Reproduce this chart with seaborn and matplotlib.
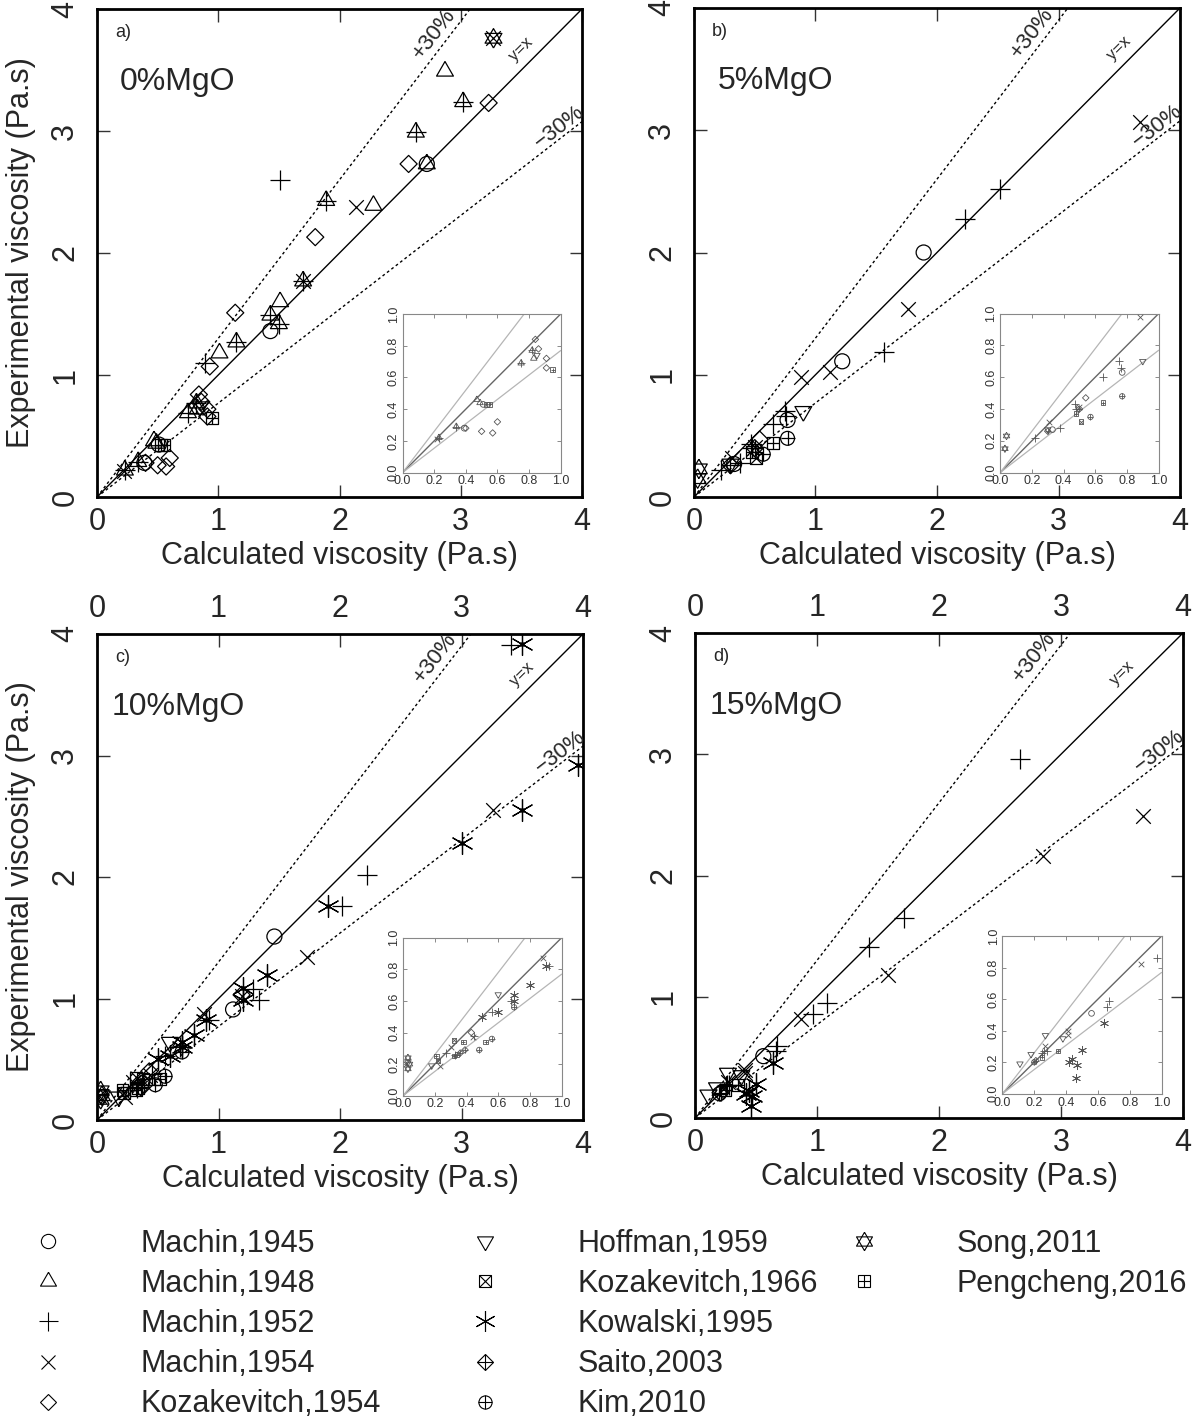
"""Calculated vs experimental viscosity, four MgO levels"""

import numpy as np
import pandas as pd
import matplotlib
matplotlib.use("Agg")
import matplotlib.pyplot as plt
from matplotlib.lines import Line2D
from matplotlib.legend_handler import HandlerTuple
import seaborn as sns

# ---- data: study -> (calculated, experimental) ----
studies = ["Machin,1945", "Machin,1948", "Machin,1952", "Machin,1954",
           "Kozakevitch,1954", "Hoffman,1959", "Kozakevitch,1966",
           "Kowalski,1995", "Saito,2003", "Kim,2010", "Song,2011",
           "Pengcheng,2016"]

mgo_0 = {
    "Machin,1945": ([0.39, 0.51, 1.43, 2.72], [0.28, 0.43, 1.36, 2.73]),
    "Machin,1948": ([0.23, 0.34, 0.47, 0.49, 0.75, 0.82, 0.83, 1.01, 1.15, 1.43,
                     1.50, 1.51, 1.70, 1.89, 2.28, 2.63, 2.72, 2.87, 3.02],
                    [0.22, 0.29, 0.46, 0.44, 0.69, 0.77, 0.72, 1.18, 1.27, 1.49,
                     1.42, 1.60, 1.77, 2.43, 2.39, 2.99, 2.73, 3.49, 3.24]),
    "Machin,1952": ([0.23, 0.34, 0.75, 0.82, 0.89, 1.15, 1.43, 1.50, 1.51, 1.70,
                     1.89, 2.63, 3.02],
                    [0.22, 0.29, 0.69, 0.77, 1.10, 1.27, 1.49, 1.42, 2.60, 1.77,
                     2.43, 2.99, 3.24]),
    "Machin,1954": ([0.22, 1.70, 2.14, 3.27], [0.21, 1.77, 2.38, 3.76]),
    "Kozakevitch,1954": ([0.40, 0.50, 0.57, 0.60, 0.84, 0.86, 0.91, 0.91, 0.93,
                          1.14, 1.80, 2.57, 3.23],
                         [0.28, 0.26, 0.25, 0.32, 0.84, 0.78, 0.72, 0.66, 1.07,
                          1.51, 2.13, 2.73, 3.23]),
    "Hoffman,1959": ([0.85], [0.74]),
    "Pengcheng,2016": ([0.53, 0.55, 0.95], [0.43, 0.43, 0.65]),
    "Song,2011": ([3.27], [3.76]),
}

mgo_5 = {
    "Machin,1945": ([0.33, 0.77, 1.22, 1.89], [0.27, 0.63, 1.11, 2.00]),
    "Machin,1952": ([0.22, 0.38, 0.47, 0.48, 0.65, 0.75, 0.76, 1.56, 2.23, 2.52],
                    [0.22, 0.28, 0.43, 0.40, 0.60, 0.70, 0.66, 1.19, 2.27, 2.52]),
    "Machin,1954": ([0.31, 0.50, 0.88, 1.12, 1.76, 3.67],
                    [0.32, 0.41, 0.98, 1.02, 1.54, 3.07]),
    "Kozakevitch,1954": ([0.54], [0.47]),
    "Hoffman,1959": ([0.30, 0.90], [0.27, 0.70]),
    "Kozakevitch,1966": ([0.51], [0.32]),
    "Saito,2003": ([0.30, 0.50], [0.26, 0.40]),
    "Kim,2010": ([0.57, 0.77], [0.35, 0.48]),
    "Song,2011": ([0.03, 0.04], [0.15, 0.23]),
    "Pengcheng,2016": ([0.48, 0.65], [0.37, 0.44]),
}

mgo_10 = {
    "Machin,1945": ([1.12, 1.46], [0.91, 1.51]),
    "Machin,1952": ([0.27, 0.33, 0.45, 0.56, 0.68, 0.92, 1.28, 1.33, 2.02, 2.22, 3.41],
                    [0.27, 0.26, 0.38, 0.53, 0.60, 0.82, 1.08, 0.99, 1.76, 2.02, 3.91]),
    "Machin,1954": ([0.02, 0.23, 0.30, 0.44, 0.88, 1.19, 1.73, 3.26],
                    [0.20, 0.19, 0.31, 0.37, 0.87, 1.02, 1.34, 2.55]),
    "Kozakevitch,1954": ([0.43, 1.19], [0.40, 1.03]),
    "Hoffman,1959": ([0.03, 0.18, 0.60], [0.21, 0.19, 0.64]),
    "Kozakevitch,1966": ([0.22, 0.32], [0.22, 0.35]),
    "Kowalski,1995": ([0.50, 0.60, 0.70, 0.70, 0.80, 0.90, 1.20, 1.20, 1.40, 1.90,
                       3.00, 3.50, 3.50, 3.96],
                      [0.50, 0.53, 0.64, 0.60, 0.70, 0.82, 1.09, 0.99, 1.19, 1.76,
                       2.28, 2.55, 3.92, 2.92]),
    "Saito,2003": ([0.36, 0.39], [0.27, 0.29]),
    "Kim,2010": ([0.48, 0.56, 0.70], [0.29, 0.36, 0.56]),
    "Song,2011": ([0.03, 0.03, 0.04], [0.17, 0.24, 0.20]),
    "Pengcheng,2016": ([0.21, 0.32, 0.34, 0.38, 0.52], [0.25, 0.25, 0.26, 0.34, 0.34]),
}

mgo_15 = {
    "Machin,1945": ([0.56], [0.51]),
    "Machin,1952": ([0.25, 0.26, 0.28, 0.66, 0.67, 0.97, 1.08, 1.43, 1.71, 2.66],
                    [0.26, 0.27, 0.27, 0.55, 0.59, 0.86, 0.95, 1.41, 1.65, 2.96]),
    "Machin,1954": ([0.27, 0.41, 0.41, 0.87, 1.58, 2.85, 3.67],
                    [0.30, 0.40, 0.37, 0.82, 1.18, 2.16, 2.49]),
    "Hoffman,1959": ([0.11, 0.18, 0.27, 0.38], [0.19, 0.25, 0.37, 0.35]),
    "Kowalski,1995": ([0.42, 0.44, 0.46, 0.47, 0.50, 0.64],
                      [0.20, 0.22, 0.10, 0.18, 0.28, 0.45]),
    "Saito,2003": ([0.21], [0.21]),
    "Kim,2010": ([0.20], [0.20]),
    "Pengcheng,2016": ([0.25, 0.35], [0.23, 0.27]),
}

panel_data = [mgo_0, mgo_5, mgo_10, mgo_15]
panel_tags = ["a)", "b)", "c)", "d)"]
panel_titles = ["0%MgO", "5%MgO", "10%MgO", "15%MgO"]
main_ticks = [0, 1, 2, 3, 4]
inset_ticks = [0.0, 0.2, 0.4, 0.6, 0.8, 1.0]

# ---- marker styles (marker, fill, size in pt on the main axes) ----
tri_up = [(0, 1), (-0.866, -0.5), (0.866, -0.5), (0, 1)]
tri_dn = [(0, -1), (-0.866, 0.5), (0.866, 0.5), (0, -1)]
marker_parts = {
    "Machin,1945": [("o", "open", 10.8)],
    "Machin,1948": [(tri_up, "open", 14)],
    "Machin,1952": [("+", "line", 14.4)],
    "Machin,1954": [("x", "line", 10.5)],
    "Kozakevitch,1954": [("D", "open", 8.7)],
    "Hoffman,1959": [(tri_dn, "open", 14)],
    "Kozakevitch,1966": [("s", "open", 8.6), ("x", "line", 8.6)],
    "Kowalski,1995": [((6, 2, 0), "line", 15.8), ("o", "solid", 2.5)],
    "Saito,2003": [("D", "open", 8.7), ("+", "line", 12)],
    "Kim,2010": [("o", "open", 10), ("+", "line", 10)],
    "Song,2011": [(tri_up, "open", 14), (tri_dn, "open", 14)],
    "Pengcheng,2016": [("s", "open", 8.6), ("+", "line", 8.6)],
}

frames = []
for p, d in enumerate(panel_data):
    for study, (xs, ys) in d.items():
        frames.append(pd.DataFrame({"panel": p, "study": study, "calc": xs, "exp": ys}))
df = pd.concat(frames, ignore_index=True)

sns.set_style("ticks")
plt.rcParams["font.family"] = ["Liberation Sans", "DejaVu Sans"]
plt.rcParams["axes.unicode_minus"] = True
FS = 22


def draw_points(ax, sub, factor, color, lw):
    for study in studies:
        s_df = sub[sub["study"] == study]
        if s_df.empty:
            continue
        for m, fill, size in marker_parts[study]:
            kw = {}
            if fill == "open":
                kw = dict(facecolor="none", edgecolor=color)
            elif fill == "solid":
                kw = dict(edgecolor=color)
            sns.scatterplot(data=s_df, x="calc", y="exp", ax=ax, marker=m,
                            s=(size * factor) ** 2, color=color, linewidth=lw,
                            legend=False, zorder=3, **kw)


fig = plt.figure(figsize=(11.96, 14.28), dpi=100)
W, H = 1196, 1428
boxes = [(97, 9, 582, 497), (694, 8, 1180, 497), (97, 634, 583, 1120), (695, 633, 1183, 1118)]

lim = np.array([0.0, 4.0])
for p, (x0, y0, x1, y1) in enumerate(boxes):
    ax = fig.add_axes([x0 / W, 1 - y1 / H, (x1 - x0) / W, (y1 - y0) / H])
    sub = df[df["panel"] == p]

    ax.plot(lim, lim, color="black", lw=1.0, zorder=2)
    ax.plot(lim, lim * 1.3, color="black", lw=1.0, ls=(0, (2, 2)), zorder=2)
    ax.plot(lim, lim / 1.3, color="black", lw=1.0, ls=(0, (2, 2)), zorder=2)
    draw_points(ax, sub, 1.0, "black", 0.9)

    ax.set_xlim(0, 4)
    ax.set_ylim(0, 4)
    ax.set_xticks(main_ticks)
    ax.set_yticks(main_ticks)
    ax.tick_params(direction="in", length=9, width=1, top=True, right=True,
                   labelsize=FS, color="#333333")
    ax.tick_params(axis="x", pad=7)
    ax.tick_params(axis="y", pad=12, labelrotation=90)
    for lbl in ax.get_yticklabels():
        lbl.set_va("center")
    for sp in ax.spines.values():
        sp.set_linewidth(2.0)
        sp.set_color("black")
    ax.set_xlabel("Calculated viscosity (Pa.s)", fontsize=FS, labelpad=3)
    if p in (0, 2):
        ax.set_ylabel("Experimental viscosity (Pa.s)", fontsize=FS, labelpad=10)
    else:
        ax.set_ylabel("")
    if p >= 2:
        top = ax.secondary_xaxis("top")
        top.set_xticks(main_ticks)
        top.tick_params(length=0, pad=7.5, labelsize=FS)
        top.spines["top"].set_visible(False)

    ax.text(0.037, 0.951, panel_tags[p], transform=ax.transAxes, fontsize=13,
            ha="left", va="center")
    ax.text(0.167, 0.85, panel_titles[p], transform=ax.transAxes, fontsize=23,
            ha="center", va="center")
    ax.text(2.78, 3.80, "+30%", fontsize=16, rotation=52.4, ha="center", va="center")
    ax.text(3.50, 3.67, "y=x", fontsize=12, rotation=45, ha="center", va="center")
    ax.text(3.81, 3.03, "\u221230%", fontsize=16, rotation=37.6, ha="center", va="center")

    # zoomed inset 0..1
    ins = ax.inset_axes([0.63, 0.05, 0.326, 0.325])
    ins.plot([0, 1], [0, 1], color="#666666", lw=1.0, zorder=2)
    ins.plot([0, 1], [0, 1.3], color="#b5b5b5", lw=0.9, zorder=2)
    ins.plot([0, 1], [0, 1 / 1.3], color="#b5b5b5", lw=0.9, zorder=2)
    draw_points(ins, sub, 0.38, "#555555", 0.6)
    ins.set_xlim(0, 1)
    ins.set_ylim(0, 1)
    ins.set_xticks(inset_ticks)
    ins.set_yticks(inset_ticks)
    ins.tick_params(direction="in", length=3, width=0.6, top=True, right=True,
                    labelsize=9, labelcolor="#333333", color="#777777", pad=2)
    ins.tick_params(axis="y", labelrotation=90)
    for lbl in ins.get_yticklabels():
        lbl.set_va("center")
    for sp in ins.spines.values():
        sp.set_linewidth(0.8)
        sp.set_color("#888888")
    ins.set_xlabel("")
    ins.set_ylabel("")

# ---- legend in three columns ----
handles = {}
for study in studies:
    parts = []
    for m, fill, size in marker_parts[study]:
        if fill == "solid":
            continue
        parts.append(Line2D([], [], ls="none", marker=m, ms=size * 0.95,
                            mfc="none" if fill == "open" else "black",
                            mec="black", mew=0.8, color="black"))
    handles[study] = tuple(parts)

columns = [studies[0:5], studies[5:10], studies[10:12]]
col_x = [17, 454, 833]
for names, cx in zip(columns, col_x):
    fig.legend([handles[n] for n in names], names, loc="upper left",
               bbox_to_anchor=(cx / W, 1 - 1229 / H), frameon=False,
               fontsize=22, borderpad=0, borderaxespad=0, handlelength=2,
               handletextpad=2.05, labelspacing=0.33,
               handler_map={tuple: HandlerTuple(ndivide=1)})

fig.savefig("out.png", dpi=100)
